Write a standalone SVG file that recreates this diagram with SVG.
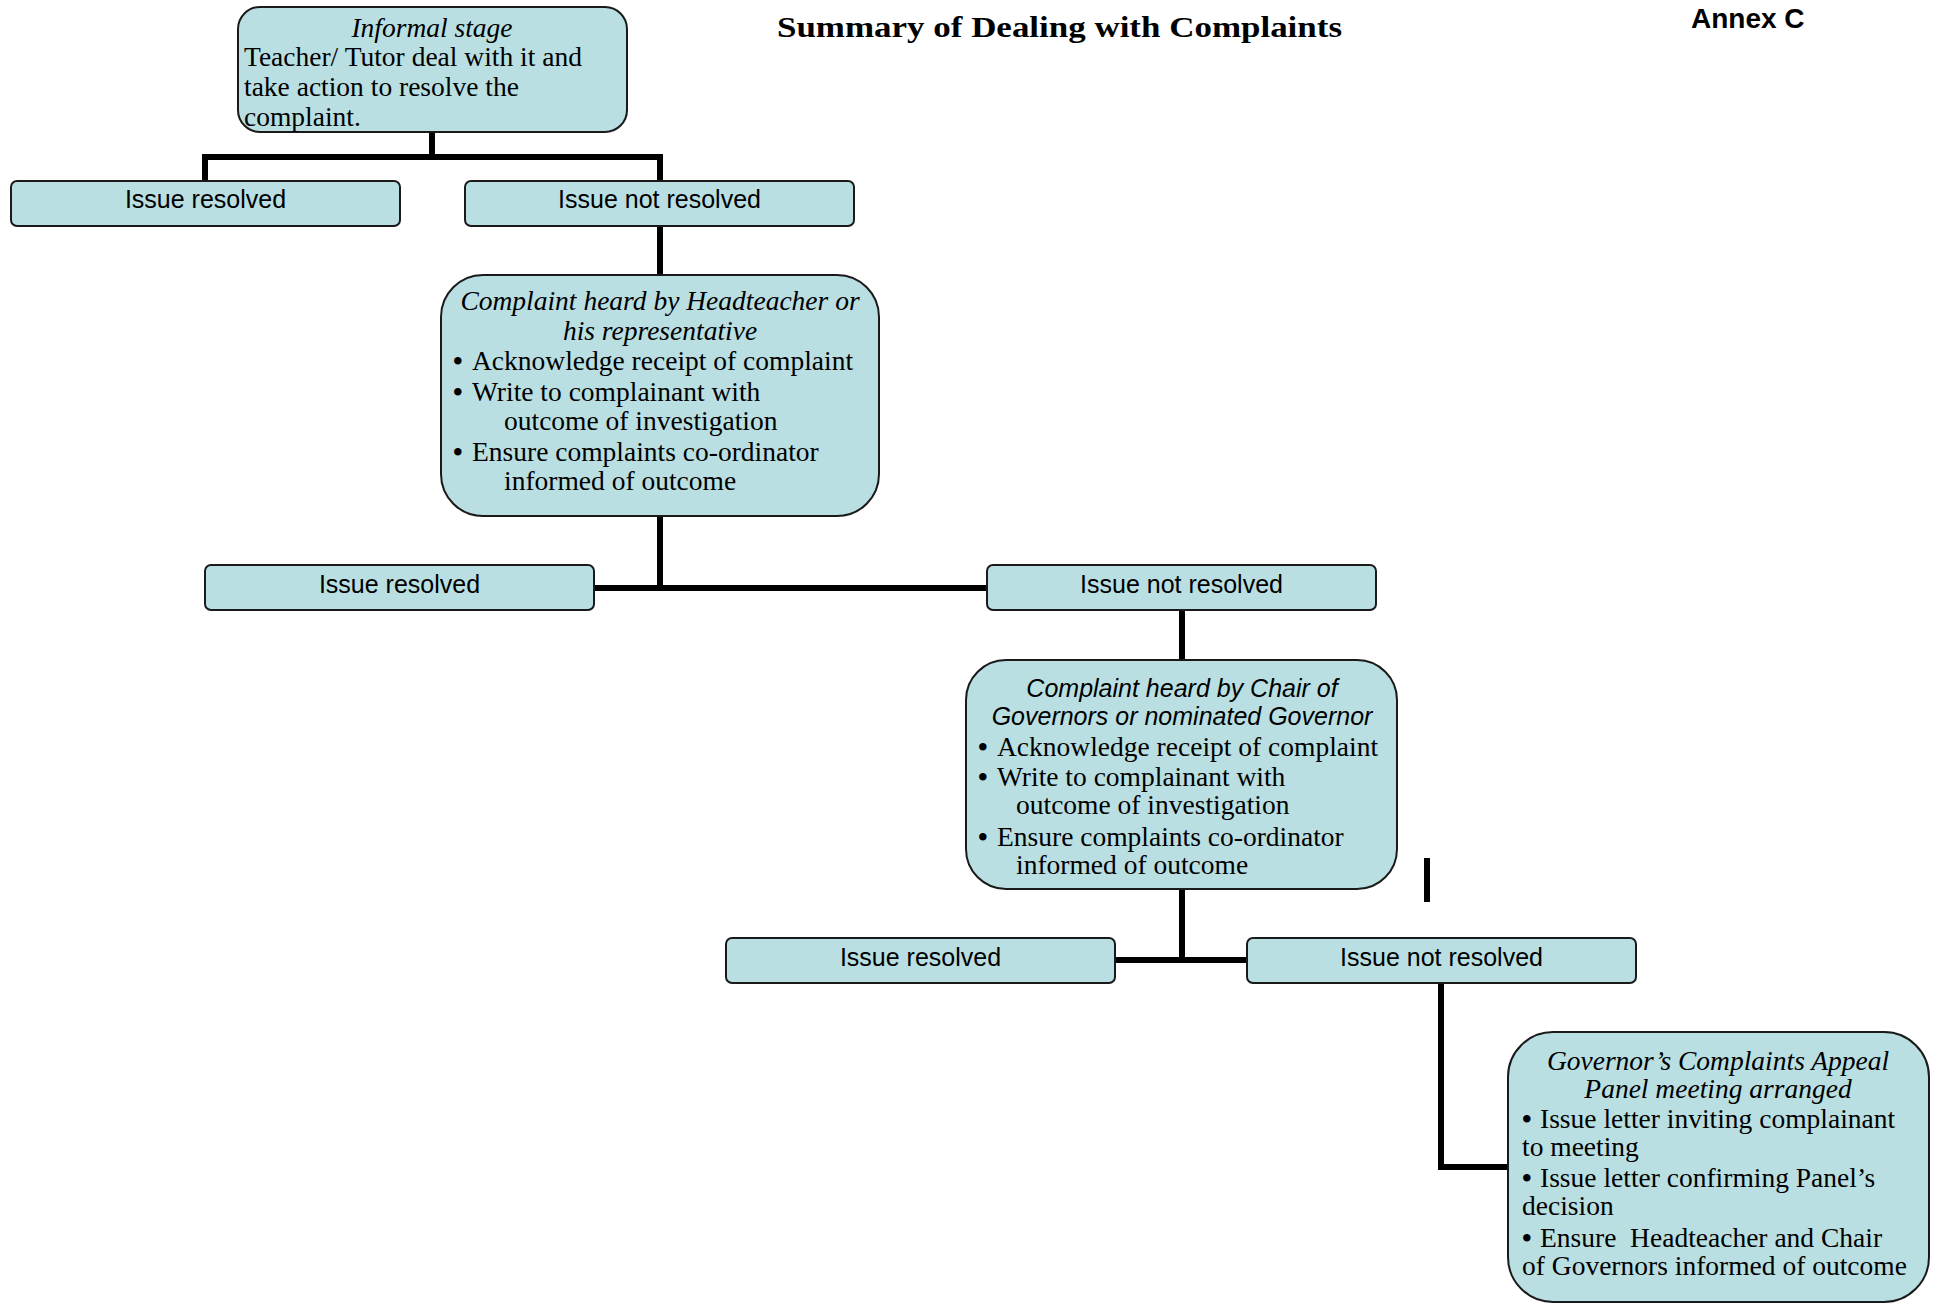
<svg xmlns="http://www.w3.org/2000/svg" width="1936" height="1303" viewBox="0 0 1936 1303">
<style>
.box{fill:#B9DFE2;stroke:#1a1a1a;stroke-width:2}
.line{fill:none;stroke:#000;stroke-width:6;stroke-linecap:butt;stroke-linejoin:miter}
.serif{font-family:"Liberation Serif","Times New Roman",serif;font-size:27.5px;fill:#000}
.it{font-style:italic}
.sans{font-family:"Liberation Sans",Arial,sans-serif;font-size:25px;fill:#000}
.mid{text-anchor:middle}
.bul{font-weight:bold}
</style>
<defs>
<clipPath id="clip1"><rect x="238" y="7" width="389" height="125" rx="22"/></clipPath>
</defs>
<rect width="1936" height="1303" fill="#fff"/>
<g id="title">
<text x="777" y="37" font-family="'Liberation Serif','Times New Roman',serif" font-weight="bold" font-size="30" textLength="565" lengthAdjust="spacingAndGlyphs">Summary of Dealing with Complaints</text>
<text x="1691" y="28" font-family="'Liberation Sans',Arial,sans-serif" font-weight="bold" font-size="28">Annex C</text>
</g>
<g id="connectors">
<polyline class="line" points="432,132 432,157"/>
<polyline class="line" points="205,181 205,157 660,157 660,181"/>
<polyline class="line" points="660,226 660,275"/>
<polyline class="line" points="660,516 660,588"/>
<polyline class="line" points="594,588 987,588"/>
<polyline class="line" points="1182,610 1182,660"/>
<polyline class="line" points="1182,889 1182,960"/>
<polyline class="line" points="1115,960 1247,960"/>
<polyline class="line" points="1441,983 1441,1167 1508,1167"/>
<line class="line" x1="1427" y1="858" x2="1427" y2="902"/>
</g>
<g id="node-informal">
<rect class="box" x="238" y="7" width="389" height="125" rx="22"/>
<g clip-path="url(#clip1)">
<text class="serif it mid" x="432" y="37">Informal stage</text>
<text class="serif" x="244" y="66">Teacher/ Tutor deal with it and</text>
<text class="serif" x="244" y="96">take action to resolve the</text>
<text class="serif" x="244" y="126">complaint.</text>
</g>
</g>
<g id="node-resolved1">
<rect class="box" x="11" y="181" width="389" height="45" rx="6"/>
<text class="sans mid" x="205.5" y="208">Issue resolved</text>
</g>
<g id="node-notresolved1">
<rect class="box" x="465" y="181" width="389" height="45" rx="6"/>
<text class="sans mid" x="659.5" y="208">Issue not resolved</text>
</g>
<g id="node-headteacher">
<rect class="box" x="441" y="275" width="438" height="241" rx="42"/>
<text class="serif it mid" x="660" y="310">Complaint heard by Headteacher or</text>
<text class="serif it mid" x="660" y="340">his representative</text>
<text class="serif" y="370"><tspan class="bul" x="453">•</tspan><tspan x="472">Acknowledge receipt of complaint</tspan></text>
<text class="serif" y="401"><tspan class="bul" x="453">•</tspan><tspan x="472">Write to complainant with</tspan></text>
<text class="serif" x="504" y="430">outcome of investigation</text>
<text class="serif" y="461"><tspan class="bul" x="453">•</tspan><tspan x="472">Ensure complaints co-ordinator</tspan></text>
<text class="serif" x="504" y="490">informed of outcome</text>
</g>
<g id="node-resolved2">
<rect class="box" x="205" y="565" width="389" height="45" rx="6"/>
<text class="sans mid" x="399.5" y="593">Issue resolved</text>
</g>
<g id="node-notresolved2">
<rect class="box" x="987" y="565" width="389" height="45" rx="6"/>
<text class="sans mid" x="1181.5" y="593">Issue not resolved</text>
</g>
<g id="node-chair">
<rect class="box" x="966" y="660" width="431" height="229" rx="40"/>
<text class="sans it mid" x="1182" y="697">Complaint heard by Chair of</text>
<text class="sans it mid" x="1182" y="725">Governors or nominated Governor</text>
<text class="serif" y="756"><tspan class="bul" x="978">•</tspan><tspan x="997">Acknowledge receipt of complaint</tspan></text>
<text class="serif" y="786"><tspan class="bul" x="978">•</tspan><tspan x="997">Write to complainant with</tspan></text>
<text class="serif" x="1016" y="814">outcome of investigation</text>
<text class="serif" y="846"><tspan class="bul" x="978">•</tspan><tspan x="997">Ensure complaints co-ordinator</tspan></text>
<text class="serif" x="1016" y="874">informed of outcome</text>
</g>
<g id="node-resolved3">
<rect class="box" x="726" y="938" width="389" height="45" rx="6"/>
<text class="sans mid" x="920.5" y="966">Issue resolved</text>
</g>
<g id="node-notresolved3">
<rect class="box" x="1247" y="938" width="389" height="45" rx="6"/>
<text class="sans mid" x="1441.5" y="966">Issue not resolved</text>
</g>
<g id="node-appeal">
<rect class="box" x="1508" y="1032" width="421" height="270" rx="45"/>
<text class="serif it mid" x="1718" y="1070">Governor’s Complaints Appeal</text>
<text class="serif it mid" x="1718" y="1098">Panel meeting arranged</text>
<text class="serif" y="1128"><tspan class="bul" x="1522">•</tspan><tspan x="1540">Issue letter inviting complainant</tspan></text>
<text class="serif" x="1522" y="1156">to meeting</text>
<text class="serif" y="1187"><tspan class="bul" x="1522">•</tspan><tspan x="1540">Issue letter confirming Panel’s</tspan></text>
<text class="serif" x="1522" y="1215">decision</text>
<text class="serif" y="1247" xml:space="preserve"><tspan class="bul" x="1522">•</tspan><tspan x="1540">Ensure  Headteacher and Chair</tspan></text>
<text class="serif" x="1522" y="1275">of Governors informed of outcome</text>
</g>
</svg>
